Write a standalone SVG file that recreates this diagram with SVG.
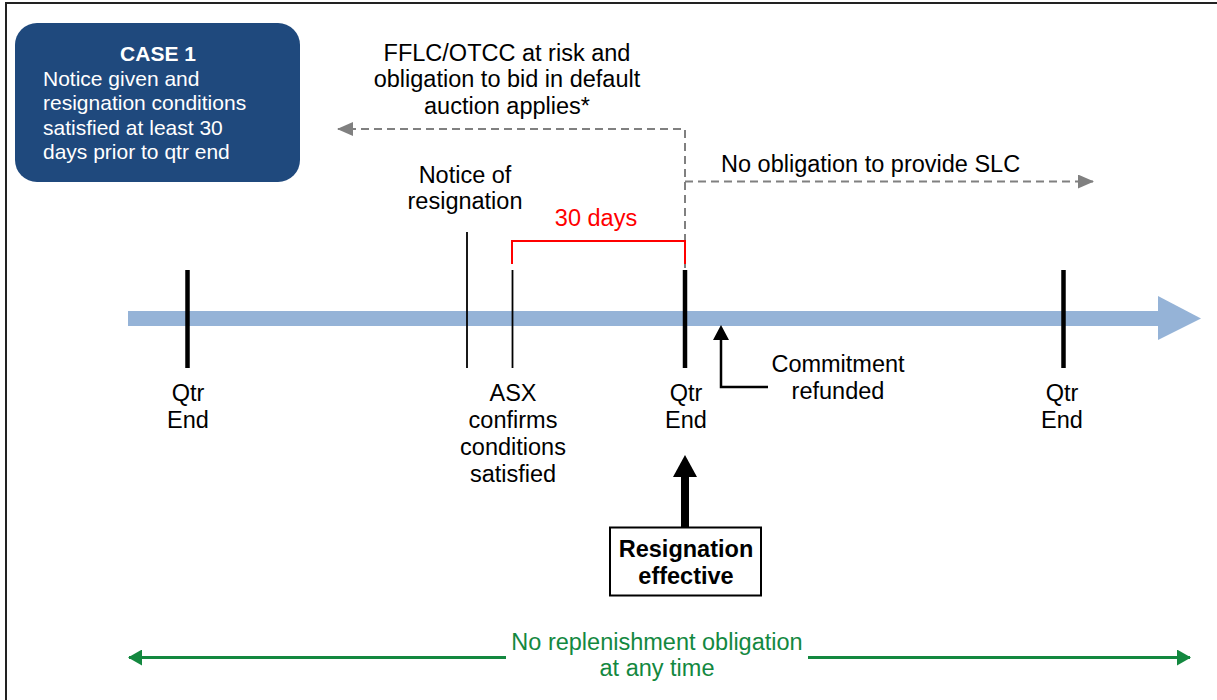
<svg xmlns="http://www.w3.org/2000/svg" width="1217" height="700" viewBox="0 0 1217 700">
  <style>
    .t { font-family: "Liberation Sans", Arial, sans-serif; font-size: 23.5px; fill: #000; text-anchor: middle; }
    .start { text-anchor: start; }
    .b { font-weight: bold; }
    .box { font-family: "Liberation Sans", Arial, sans-serif; font-size: 21px; fill: #fff; }
    .red { fill: #ff0000; }
    .green { fill: #13883f; }
    .tick { stroke: #000; stroke-width: 4.5; }
    .thin { stroke: #000; stroke-width: 1.8; }
    .dash { stroke: #808080; stroke-width: 2; stroke-dasharray: 8 5; fill: none; }
  </style>
  <defs>
    <marker id="grayArrow" markerWidth="16" markerHeight="14" refX="15" refY="7" orient="auto" markerUnits="userSpaceOnUse">
      <path d="M0,0 L16,7 L0,14 Z" fill="#808080"/>
    </marker>
    <marker id="greenArrow" markerWidth="14" markerHeight="16" refX="13" refY="8" orient="auto" markerUnits="userSpaceOnUse">
      <path d="M0,0 L14,8 L0,16 Z" fill="#13883f"/>
    </marker>
  </defs>

  <rect x="0" y="0" width="1217" height="700" fill="#fff"/>
  <rect x="6" y="3" width="1230" height="720" fill="none" stroke="#222" stroke-width="2"/>

  <g id="case-box">
    <rect x="15" y="23" width="285" height="159" rx="22" fill="#1f497d"/>
    <text class="box b" x="158" y="61" text-anchor="middle">CASE 1</text>
    <text class="box" x="43" y="86">Notice given and</text>
    <text class="box" x="43" y="110">resignation conditions</text>
    <text class="box" x="43" y="135">satisfied at least 30</text>
    <text class="box" x="43" y="159">days prior to qtr end</text>
  </g>

  <g id="timeline">
    <rect x="128" y="311" width="1032" height="15" fill="#95b3d7"/>
    <path d="M1158,296 L1201,318.5 L1158,340 Z" fill="#95b3d7"/>
  </g>

  <g id="connectors">
    <path class="dash" d="M685,268 L685,129 L338,129" marker-end="url(#grayArrow)"/>
    <path class="dash" d="M685,181.5 L1093,181.5" marker-end="url(#grayArrow)"/>
    <path d="M512,264 L512,241 L685,241 L685,264" fill="none" stroke="#ff0000" stroke-width="2"/>
    <path d="M768,387 L721,387 L721,338" fill="none" stroke="#000" stroke-width="2.5"/>
    <path d="M713,340 L721,325 L729,340 Z" fill="#000"/>
    <rect x="681" y="475" width="8" height="52" fill="#000"/>
    <path d="M673,477 L685,455 L697,477 Z" fill="#000"/>
    <path d="M506,657.5 L129,657.5" stroke="#13883f" stroke-width="3" marker-end="url(#greenArrow)"/>
    <path d="M808,657.5 L1190,657.5" stroke="#13883f" stroke-width="3" marker-end="url(#greenArrow)"/>
  </g>

  <g id="qtr-end-1">
    <line class="tick" x1="187.5" y1="270" x2="187.5" y2="368"/>
    <text class="t" x="188" y="401">Qtr</text>
    <text class="t" x="188" y="428">End</text>
  </g>

  <g id="notice">
    <line class="thin" x1="467" y1="232" x2="467" y2="368"/>
    <text class="t" x="465" y="183">Notice of</text>
    <text class="t" x="465" y="209">resignation</text>
  </g>

  <g id="asx-confirms">
    <line class="thin" x1="512.5" y1="270" x2="512.5" y2="368"/>
    <text class="t" x="513" y="401">ASX</text>
    <text class="t" x="513" y="428">confirms</text>
    <text class="t" x="513" y="455">conditions</text>
    <text class="t" x="513" y="482">satisfied</text>
  </g>

  <g id="thirty-days">
    <text class="t red" x="596" y="226">30 days</text>
  </g>

  <g id="qtr-end-2">
    <line class="tick" x1="685" y1="270" x2="685" y2="368"/>
    <text class="t" x="686" y="401">Qtr</text>
    <text class="t" x="686" y="428">End</text>
  </g>

  <g id="qtr-end-3">
    <line class="tick" x1="1063.5" y1="270" x2="1063.5" y2="368"/>
    <text class="t" x="1062" y="401">Qtr</text>
    <text class="t" x="1062" y="428">End</text>
  </g>

  <g id="fflc-note">
    <text class="t" x="507" y="61">FFLC/OTCC at risk and</text>
    <text class="t" x="507" y="87">obligation to bid in default</text>
    <text class="t" x="507" y="114">auction applies*</text>
  </g>

  <g id="slc-note">
    <text class="t start" x="721" y="171.5">No obligation to provide SLC</text>
  </g>

  <g id="commitment">
    <text class="t" x="838" y="371.5">Commitment</text>
    <text class="t" x="838" y="399">refunded</text>
  </g>

  <g id="resignation-effective">
    <rect x="610" y="527.5" width="151" height="68" fill="#fff" stroke="#000" stroke-width="2"/>
    <text class="t b" x="686" y="557">Resignation</text>
    <text class="t b" x="686" y="584">effective</text>
  </g>

  <g id="replenishment">
    <text class="t green" x="657" y="650">No replenishment obligation</text>
    <text class="t green" x="657" y="676">at any time</text>
  </g>
</svg>
